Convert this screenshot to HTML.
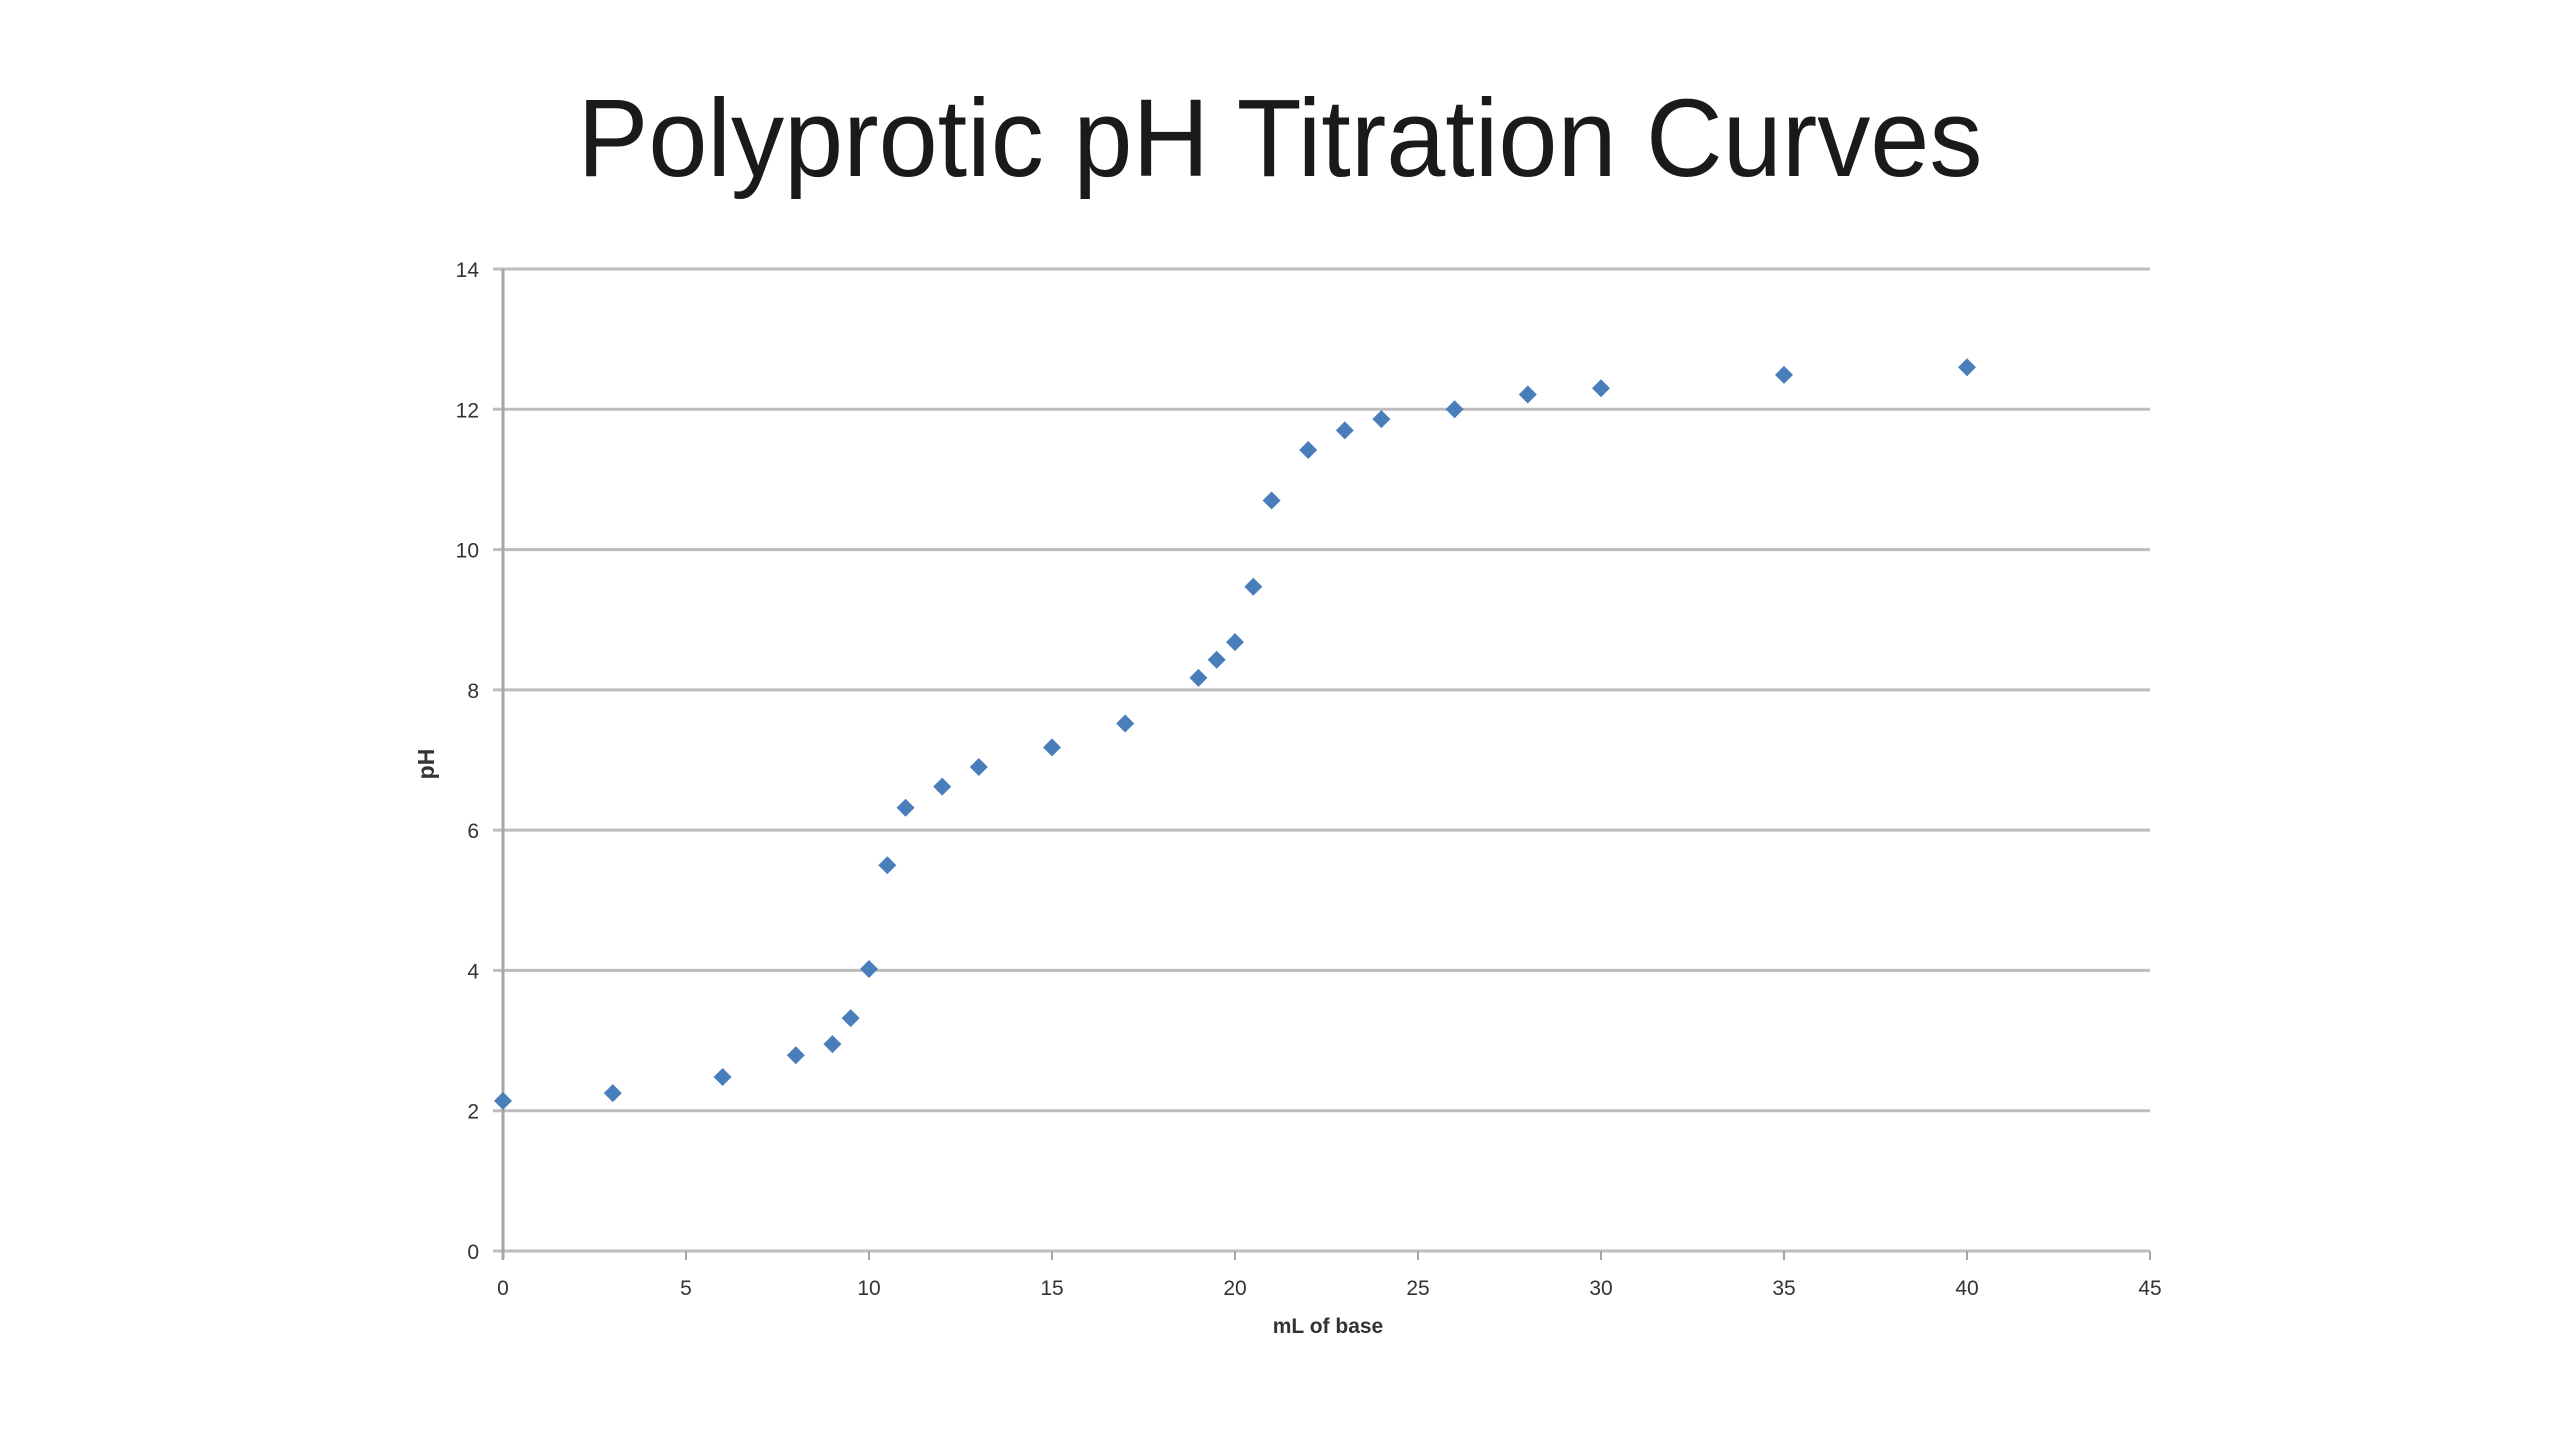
<!DOCTYPE html>
<html><head><meta charset="utf-8"><style>
html,body{margin:0;padding:0;background:#fff;width:2560px;height:1440px;overflow:hidden}
svg{display:block}
text{font-family:"Liberation Sans",sans-serif}
</style></head><body>
<svg id="chart" width="2560" height="1440" viewBox="0 0 2560 1440">
<text x="1280" y="176" text-anchor="middle" font-size="110" fill="#1a1a1a" textLength="1405" lengthAdjust="spacingAndGlyphs">Polyprotic pH Titration Curves</text>
<g id="grid"></g><g id="axes"></g><g id="marks"></g>
<text x="1328" y="1333" text-anchor="middle" font-size="21" font-weight="bold" fill="#333">mL of base</text>
<text transform="translate(434,764) rotate(-90)" text-anchor="middle" font-size="23" font-weight="bold" fill="#333">pH</text>
</svg>
<script>
const xValues=[0,3,6,8,9,9.5,10,10.5,11,12,13,15,17,19,19.5,20,20.5,21,22,23,24,26,28,30,35,40];
const phValues=[2.14,2.25,2.48,2.79,2.95,3.32,4.02,5.5,6.32,6.62,6.9,7.18,7.52,8.17,8.43,8.68,9.47,10.7,11.42,11.7,11.86,12.0,12.21,12.3,12.49,12.6];
const xTicks=[0,5,10,15,20,25,30,35,40,45];
const yTicks=[0,2,4,6,8,10,12,14];
const NS='http://www.w3.org/2000/svg';
const X0=503,X1=2150,Y0=1251,Y1=269;
function sx(v){return X0+(v-0)/(45-0)*(X1-X0);}
function sy(v){return Y0-(v-0)/(14-0)*(Y0-Y1);}
function mk(t,a,p){const e=document.createElementNS(NS,t);for(const k in a)e.setAttribute(k,a[k]);p.appendChild(e);return e;}
const grid=document.getElementById('grid'),axes=document.getElementById('axes'),marks=document.getElementById('marks');
yTicks.forEach(v=>{
  const l=mk('line',{x1:X0-10,x2:X1,y1:sy(v),y2:sy(v),stroke:'#bdbdbd','stroke-width':3},grid);
  
  
  const t=mk('text',{x:X0-24,y:sy(v)+8,'text-anchor':'end','font-size':21,fill:'#333'},axes);
  t.textContent=v;
  
  
});
const ya=mk('line',{x1:X0,x2:X0,y1:Y1,y2:Y0+8,stroke:'#a6a6a6','stroke-width':3},axes);


xTicks.forEach(v=>{
  const tk=mk('line',{x1:sx(v),x2:sx(v),y1:Y0,y2:Y0+9,stroke:'#a6a6a6','stroke-width':2},axes);
  
  
  const t=mk('text',{x:sx(v),y:Y0+44,'text-anchor':'middle','font-size':21,fill:'#333'},axes);
  t.textContent=v;
  
  
});
xValues.forEach((x,i)=>{
  const cx=sx(x),cy=sy(phValues[i]),r=9;
  const p=mk('polygon',{points:`${cx},${cy-r} ${cx+r},${cy} ${cx},${cy+r} ${cx-r},${cy}`,fill:'#4a7ebb'},marks);
  
  
});
</script>
</body></html>
